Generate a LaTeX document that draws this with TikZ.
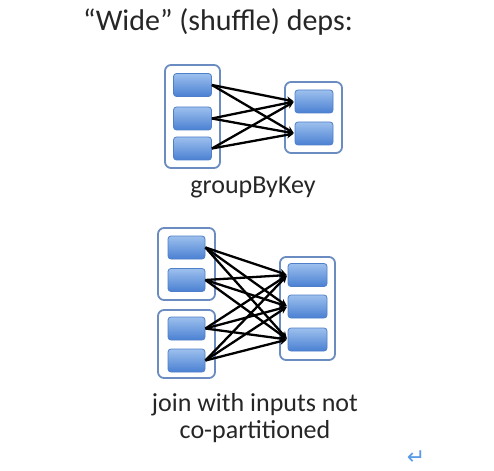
\documentclass[tikz,border=0pt]{standalone}
\usepackage{fontspec}
\setmainfont{Carlito}
\newfontfamily\symfont{DejaVu Sans}
\usetikzlibrary{arrows.meta}
\definecolor{outerc}{HTML}{6A8CC0}
\definecolor{innerb}{HTML}{4F7FC8}
\definecolor{topc}{HTML}{9DC0EE}
\definecolor{botc}{HTML}{4A80D2}
\definecolor{retc}{HTML}{5A9BE8}
\begin{document}
\begin{tikzpicture}[x=1pt,y=-1pt,
  outerbox/.style={draw=outerc,line width=1.8pt,rounded corners=6pt,fill=white,minimum width=#1},
  innerbox/.style={draw=innerb,line width=0.8pt,rounded corners=3pt,top color=topc,bottom color=botc,minimum width=38pt,minimum height=23pt,inner sep=0pt},
  dep/.style={draw=black,line width=2.3pt,-{Stealth[length=7pt,width=7pt]},shorten >=1pt},
  lbl/.style={font=\fontsize{26}{27}\selectfont,text=black!85,align=center}]
\useasboundingbox (0,0) rectangle (494,470);
\node[lbl,font=\fontsize{30}{34}\selectfont] (title) at (218,22) {“Wide” (shuffle) deps:};
% top group
\node[outerbox=55pt,minimum height=103pt] (lo) at (192.5,116.5) {};
\node[outerbox=57pt,minimum height=71pt] (ro) at (313.5,117.5) {};
\node[innerbox] (a1) at (192.5,85) {};
\node[innerbox] (a2) at (192.5,118.5) {};
\node[innerbox] (a3) at (192.5,148.5) {};
\node[innerbox] (b1) at (314,101.5) {};
\node[innerbox] (b2) at (314,133.5) {};
\foreach \s in {a1,a2,a3}{\foreach \t in {b1,b2}{\draw[dep] (\s.east) -- (\t.west);}}
\node[lbl] (gbk) at (253,187) {groupByKey};
% bottom group
\node[outerbox=57pt,minimum height=72pt] (luo) at (186.5,264) {};
\node[outerbox=57pt,minimum height=68pt] (llo) at (186.5,344) {};
\node[outerbox=55pt,minimum height=103pt] (rbo) at (307.5,308.5) {};
\node[innerbox,minimum width=37pt] (c1) at (186.5,247.5) {};
\node[innerbox,minimum width=37pt] (c2) at (186.5,280) {};
\node[innerbox,minimum width=37pt] (c3) at (186.5,328.5) {};
\node[innerbox,minimum width=37pt] (c4) at (186.5,360.5) {};
\node[innerbox,minimum width=39pt] (d1) at (307.5,275) {};
\node[innerbox,minimum width=39pt] (d2) at (307.5,306.5) {};
\node[innerbox,minimum width=39pt] (d3) at (307.5,339.5) {};
\foreach \s in {c1,c2,c3,c4}{\foreach \t in {d1,d2,d3}{\draw[dep] (\s.east) -- (\t.west);}}
\node[lbl] (join) at (255,418) {join with inputs not\\co-partitioned};
\node[text=retc,font=\symfont\fontsize{22}{24}\selectfont] (ret) at (416,458) {↵};
\end{tikzpicture}
\end{document}
